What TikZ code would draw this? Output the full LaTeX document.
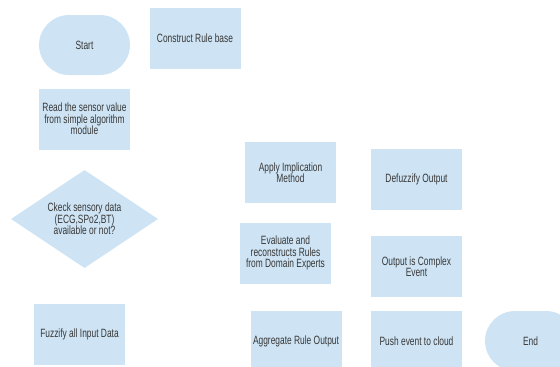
\documentclass[tikz,border=0pt]{standalone}
\usepackage{fontspec}
\setmainfont{Liberation Sans}[FakeStretch=0.7]
\usepackage{xcolor}
\usepackage{tikz}
\usetikzlibrary{shapes.geometric}
\usetikzlibrary{shapes.misc}
\definecolor{boxblue}{RGB}{206,228,244}
\definecolor{inkgrey}{RGB}{55,55,55}

\begin{document}
\begin{tikzpicture}[x=1pt, y=-1pt,
    every node/.style = {font=\fontsize{12}{11.5}\selectfont, text=inkgrey, align=center},
    main/.style = {rectangle, fill=boxblue, minimum width=91pt, minimum height=61pt, inner sep=0pt},
    term/.style = {rounded rectangle, fill=boxblue, minimum width=91pt, minimum height=60pt, inner sep=0pt},
    decide/.style = {diamond, fill=boxblue, aspect=1.5, minimum width=147pt, minimum height=98pt, inner sep=0pt}]
    \useasboundingbox (0,0) rectangle (560,367);
    \clip (0,0) rectangle (560,367);

    \node [term] (start) at (84.5, 45) {Start};
    \node [main] (rule) at (195, 38) {Construct Rule base};
    \node [main] (read) at (84.5, 119) {Read the sensor value\\from simple algorithm\\module};
    \node [decide] (check) at (84.5, 219) {Ckeck sensory data\\(ECG,SPo2,BT)\\available or not?};
    \node [main] (fuzzify) at (79.5, 334) {Fuzzify all Input Data};

    \node [main] (apply) at (290.5, 172.5) {Apply Implication\\Method};
    \node [main] (evaluate) at (285.5, 253) {Evaluate and\\reconstructs Rules\\from Domain Experts};
    \node [main] (aggregate) at (296, 341) {Aggregate Rule Output};

    \node [main] (defuzzify) at (416.5, 179) {Defuzzify Output};
    \node [main] (output) at (416.5, 266.5) {Output is Complex\\Event};
    \node [main] (push) at (416.5, 341) {Push event to cloud};

    \node [term] (end) at (530.5, 341) {End};

\end{tikzpicture}
\end{document}
